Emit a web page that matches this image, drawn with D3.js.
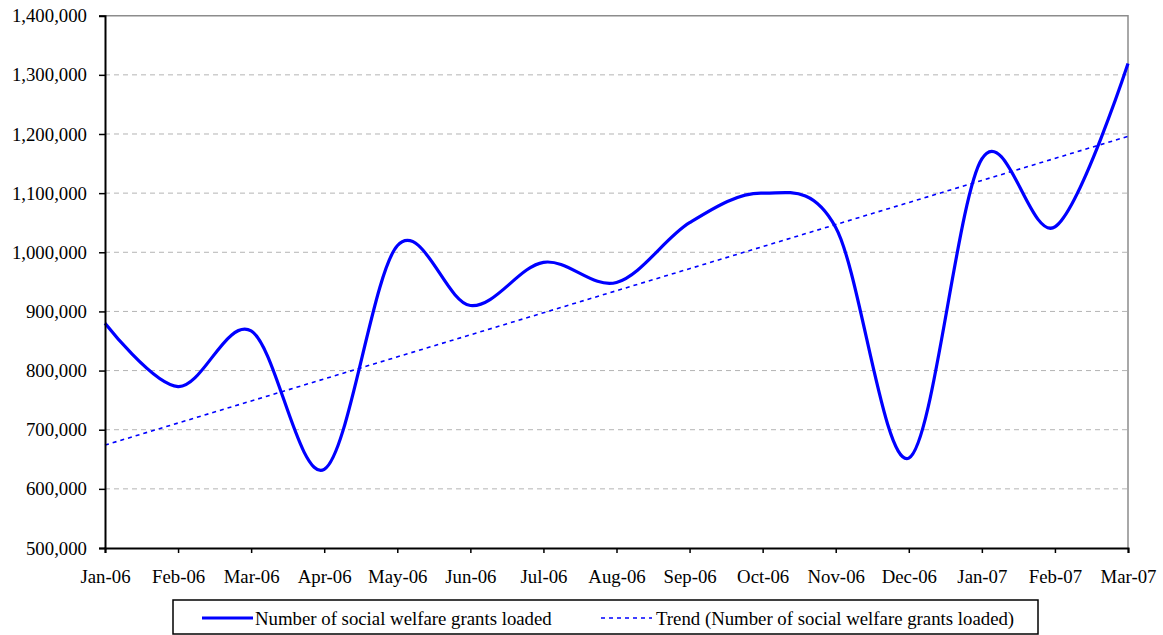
<!DOCTYPE html>
<html>
<head>
<meta charset="utf-8">
<script src="https://cdn.jsdelivr.net/npm/d3@7"></script>
<style>
  html, body { margin: 0; padding: 0; background: #fff; }
  svg { display: block; }
  text { font-family: "Liberation Serif", "Times New Roman", serif; fill: #000; }
</style>
</head>
<body>
<svg id="chart" width="1163" height="635"></svg>
<script>
// ---- data ----
const months = ["Jan-06","Feb-06","Mar-06","Apr-06","May-06","Jun-06","Jul-06","Aug-06","Sep-06","Oct-06","Nov-06","Dec-06","Jan-07","Feb-07","Mar-07"];
const grantsLoaded = [880000, 773000, 867000, 633000, 1011000, 910000, 983000, 949000, 1050000, 1100000, 1042000, 652000, 1158000, 1043000, 1319000];
const trendMonths = ["Jan-06", "Mar-07"];
const trendValues = [674000, 1196000];
const yTicks = [500000, 600000, 700000, 800000, 900000, 1000000, 1100000, 1200000, 1300000, 1400000];
const seriesName = "Number of social welfare grants loaded";
const trendName = "Trend (Number of social welfare grants loaded)";

// ---- layout ----
const svg = d3.select("#chart");
const plotL = 105, plotR = 1128, plotT = 15.7, plotB = 548;
const fontSize = 18.8;

const x = d3.scalePoint().domain(months).range([plotL, plotR]);
const y = d3.scaleLinear().domain([500000, 1400000]).range([plotB, plotT]);
const fmt = d3.format(",");

// gridlines
svg.append("g")
  .selectAll("line")
  .data(yTicks.filter(v => v > 500000 && v < 1400000))
  .join("line")
  .attr("x1", plotL).attr("x2", plotR)
  .attr("y1", d => y(d)).attr("y2", d => y(d))
  .attr("stroke", "#b4b4b4")
  .attr("stroke-width", 1)
  .attr("stroke-dasharray", "5,4");

// top & right frame
svg.append("path")
  .attr("d", `M${plotL},${y(1400000)}H${plotR}V${plotB}`)
  .attr("fill", "none")
  .attr("stroke", "#8c8c8c")
  .attr("stroke-width", 1.5);

// trend line
const trendLine = d3.line().x((d, i) => x(trendMonths[i])).y(d => y(d));
svg.append("path")
  .datum(trendValues)
  .attr("d", trendLine)
  .attr("fill", "none")
  .attr("stroke", "#0000ff")
  .attr("stroke-width", 1.6)
  .attr("stroke-dasharray", "4,4");

// main series (smoothed like Excel: uniform Catmull-Rom)
const line = d3.line()
  .x((d, i) => x(months[i]))
  .y(d => y(d))
  .curve(d3.curveCardinal.tension(0));
svg.append("path")
  .datum(grantsLoaded)
  .attr("d", line)
  .attr("fill", "none")
  .attr("stroke", "#0000ff")
  .attr("stroke-width", 3.2)
  .attr("stroke-linejoin", "round");

// y axis
const yAxis = svg.append("g")
  .attr("transform", `translate(${plotL},0)`)
  .call(d3.axisLeft(y).tickValues(yTicks).tickFormat(fmt).tickSize(6).tickPadding(12));
yAxis.select(".domain").attr("stroke", "#000").attr("stroke-width", 2);
yAxis.selectAll(".tick line").attr("stroke", "#000").attr("stroke-width", 1.5);
yAxis.selectAll("text").attr("font-size", fontSize).attr("font-family", "Liberation Serif").attr("fill", "#000");

// x axis
const xAxis = svg.append("g")
  .attr("transform", `translate(0,${plotB})`)
  .call(d3.axisBottom(x).tickSize(5).tickPadding(17));
xAxis.select(".domain").attr("stroke", "#000").attr("stroke-width", 2);
xAxis.selectAll(".tick line").attr("stroke", "#000").attr("stroke-width", 1.5);
xAxis.selectAll("text").attr("font-size", fontSize).attr("font-family", "Liberation Serif").attr("fill", "#000");

// legend
const lg = svg.append("g");
lg.append("rect")
  .attr("x", 173).attr("y", 600).attr("width", 865).attr("height", 34)
  .attr("fill", "#fff").attr("stroke", "#000").attr("stroke-width", 1.5);
lg.append("line")
  .attr("x1", 202).attr("x2", 253).attr("y1", 618).attr("y2", 618)
  .attr("stroke", "#0000ff").attr("stroke-width", 3.2);
lg.append("text")
  .attr("x", 255).attr("y", 618).attr("dy", "0.35em")
  .attr("font-size", fontSize)
  .text(seriesName);
lg.append("line")
  .attr("x1", 601).attr("x2", 652).attr("y1", 618).attr("y2", 618)
  .attr("stroke", "#0000ff").attr("stroke-width", 1.6).attr("stroke-dasharray", "4,4");
lg.append("text")
  .attr("x", 656).attr("y", 618).attr("dy", "0.35em")
  .attr("font-size", fontSize)
  .text(trendName);
</script>
</body>
</html>
